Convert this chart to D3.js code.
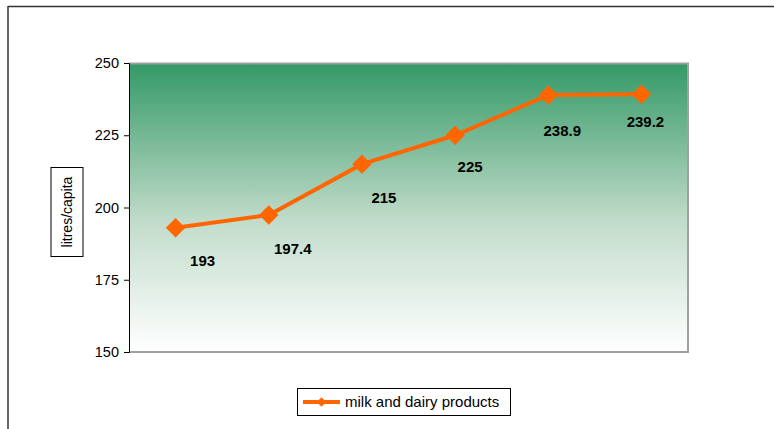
<!DOCTYPE html>
<html>
<head>
<meta charset="utf-8">
<script src="https://cdn.jsdelivr.net/npm/d3@7"></script>
<style>
  body { margin: 0; background: #fff; }
  svg { display: block; font-family: Arial, "Liberation Sans", sans-serif; }
</style>
</head>
<body>
<div id="chart"></div>
<script>
// chart data
const categories = ['1', '2', '3', '4', '5', '6'];
const values = [193, 197.4, 215, 225, 238.9, 239.2];
const yTicks = [150, 175, 200, 225, 250];
const seriesName = 'milk and dairy products';
const yLabel = 'litres/capita';

// where each data label was dragged to, relative to its point (px)
const labelNudge = [[27, 33], [24, 34], [22, 34], [15, 31], [14, 36], [4, 28]];

const W = 774, H = 429;
const margin = { top: 63, right: 86, bottom: 77, left: 129 };
const width = W - margin.left - margin.right;
const height = H - margin.top - margin.bottom;

const svg = d3.select('#chart')
  .append('svg')
  .attr('width', W)
  .attr('height', H);

// outer frame (only left and top are in view)
svg.append('line').attr('x1', 8).attr('x2', 8).attr('y1', 6).attr('y2', H)
  .attr('stroke', '#333').attr('stroke-width', 1.5);
svg.append('line').attr('x1', 8).attr('x2', W).attr('y1', 6.5).attr('y2', 6.5)
  .attr('stroke', '#333').attr('stroke-width', 1.5);

const defs = svg.append('defs');
const grad = defs.append('linearGradient')
  .attr('id', 'bg').attr('x1', 0).attr('y1', 0).attr('x2', 0).attr('y2', 1);
grad.append('stop').attr('offset', '0%').attr('stop-color', '#339966');
grad.append('stop').attr('offset', '55%').attr('stop-color', '#c2dccb');
grad.append('stop').attr('offset', '100%').attr('stop-color', '#ffffff');

const g = svg.append('g')
  .attr('transform', `translate(${margin.left}, ${margin.top})`);

const xScale = d3.scaleBand()
  .domain(categories)
  .range([0, width]);

const yScale = d3.scaleLinear()
  .domain([150, 250])
  .range([height, 0]);

// plot area
g.append('rect')
  .attr('x', 0).attr('y', 0)
  .attr('width', width).attr('height', height)
  .attr('fill', 'url(#bg)');
g.append('path')
  .attr('d', `M0,0.5H${width}V${height}H0`)
  .attr('fill', 'none')
  .attr('stroke', '#a0a0a0')
  .attr('stroke-width', 2);

// y axis
const yAxis = g.append('g')
  .call(d3.axisLeft(yScale).tickValues(yTicks).tickSize(5).tickPadding(5));
yAxis.select('.domain').attr('stroke', '#000');
yAxis.selectAll('text').attr('font-size', 14.5).attr('fill', '#000')
  .attr('font-family', 'Arial, "Liberation Sans", sans-serif');

// y label box
const lab = svg.append('g').attr('transform', 'translate(67, 212) rotate(-90)');
lab.append('rect')
  .attr('x', -44.5).attr('y', -16)
  .attr('width', 89).attr('height', 32)
  .attr('fill', '#fff').attr('stroke', '#000');
lab.append('text')
  .attr('text-anchor', 'middle')
  .attr('dy', '0.35em')
  .attr('font-size', 14)
  .text(yLabel);

const cx = (d, i) => xScale(categories[i]) + xScale.bandwidth() / 2;
const diamond = d3.symbol().type(d3.symbolDiamond2).size(240);

// line
g.append('path')
  .datum(values)
  .attr('d', d3.line().x(cx).y(d => yScale(d)))
  .attr('fill', 'none')
  .attr('stroke', '#ff6600')
  .attr('stroke-width', 4);

// markers
g.selectAll('.pt')
  .data(values)
  .enter()
  .append('path')
  .attr('class', 'pt')
  .attr('d', diamond)
  .attr('transform', (d, i) => `translate(${cx(d, i)}, ${yScale(d)})`)
  .attr('fill', '#ff6600');

// value labels
g.selectAll('.lbl')
  .data(values)
  .enter()
  .append('text')
  .attr('class', 'lbl')
  .attr('x', (d, i) => cx(d, i) + labelNudge[i][0])
  .attr('y', (d, i) => yScale(d) + labelNudge[i][1])
  .attr('dy', '0.35em')
  .attr('text-anchor', 'middle')
  .attr('font-size', 15)
  .attr('font-weight', 'bold')
  .text(d => d);

// legend
const leg = svg.append('g').attr('transform', 'translate(297, 388)');
leg.append('rect')
  .attr('x', 0.5).attr('y', 0.5)
  .attr('width', 213).attr('height', 27)
  .attr('fill', '#fff').attr('stroke', '#000');
leg.append('line')
  .attr('x1', 6).attr('x2', 43).attr('y1', 14).attr('y2', 14)
  .attr('stroke', '#ff6600').attr('stroke-width', 4);
leg.append('path')
  .attr('d', d3.symbol().type(d3.symbolDiamond2).size(60))
  .attr('transform', 'translate(24.5, 14)')
  .attr('fill', '#ff6600');
leg.append('text')
  .attr('x', 48).attr('y', 14).attr('dy', '0.35em')
  .attr('font-size', 15)
  .text(seriesName);
</script>
</body>
</html>
